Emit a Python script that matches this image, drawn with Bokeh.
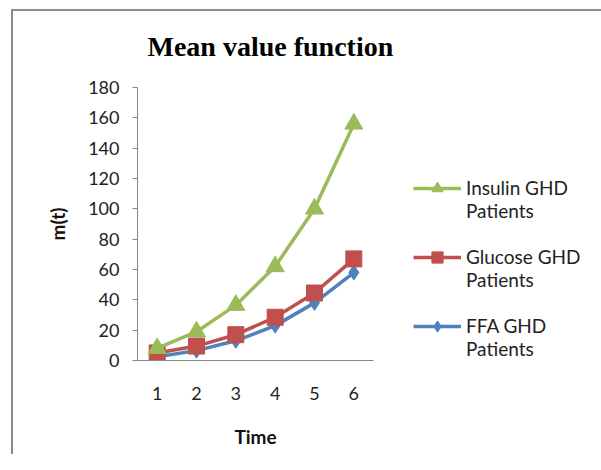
from bokeh.plotting import figure
from bokeh.models import Legend, LegendItem, FixedTicker, Range1d, Title, InlineStyleSheet
from bokeh.embed import file_html
from bokeh.resources import INLINE

time = [1, 2, 3, 4, 5, 6]
insulin = [8, 19, 36.5, 62, 100, 156]
glucose = [5, 9.5, 17, 28.5, 44.5, 67]
ffa = [2.5, 6.5, 13, 23, 38, 58]
y_ticks = [0, 20, 40, 60, 80, 100, 120, 140, 160, 180]
labels = ["Insulin GHD\nPatients", "Glucose GHD\nPatients", "FFA GHD\nPatients"]

GREEN = "#9BBB59"
RED = "#C0504D"
BLUE = "#4F81BD"
AXIS = "#868686"
FONT = "Lato"

p = figure(frame_width=236, frame_height=273, output_backend="svg", toolbar_location=None,
           x_range=Range1d(0.5, 6.5), y_range=Range1d(0, 180),
           min_border_left=137, min_border_right=0, min_border_top=87, min_border_bottom=94)
p.outline_line_color = None
p.xgrid.grid_line_color = None
p.ygrid.grid_line_color = None
p.border_fill_alpha = 0

# outer chart-area frame: only its top and left edges fall inside the picture
p.stylesheets = [InlineStyleSheet(css=
    ":host { background:"
    " linear-gradient(#8c8c8c,#8c8c8c) 11px 9px / 2px 100% no-repeat,"
    " linear-gradient(#8c8c8c,#8c8c8c) 11px 9px / 100% 2px no-repeat; }")]

title = Title(text="Mean value function", text_font="Liberation Serif", text_font_size="28px",
              text_font_style="bold", text_color="#000000", align="left", offset=10, standoff=51)
p.add_layout(title, "above")

# x axis
p.xaxis.ticker = FixedTicker(ticks=time)
p.xaxis.axis_line_color = AXIS
p.xaxis.major_tick_out = 0
p.xaxis.major_tick_in = 0
p.xaxis.minor_tick_line_color = None
p.xaxis.major_label_text_font = FONT
p.xaxis.major_label_text_font_size = "18px"
p.xaxis.major_label_text_color = "#222222"
p.xaxis.major_label_standoff = 26
p.xaxis.axis_label = "Time"
p.xaxis.axis_label_text_font = FONT
p.xaxis.axis_label_text_font_size = "19px"
p.xaxis.axis_label_text_font_style = "bold"
p.xaxis.axis_label_text_color = "#111111"
p.xaxis.axis_label_standoff = 22

# y axis
p.yaxis.ticker = FixedTicker(ticks=y_ticks)
p.yaxis.axis_line_color = AXIS
p.yaxis.major_tick_line_color = AXIS
p.yaxis.major_tick_out = 5
p.yaxis.major_tick_in = 0
p.yaxis.minor_tick_line_color = None
p.yaxis.major_label_text_font = FONT
p.yaxis.major_label_text_font_size = "18px"
p.yaxis.major_label_text_color = "#222222"
p.yaxis.major_label_standoff = 13
p.yaxis.axis_label = "m(t)"
p.yaxis.axis_label_text_font = FONT
p.yaxis.axis_label_text_font_size = "19px"
p.yaxis.axis_label_text_font_style = "bold"
p.yaxis.axis_label_text_color = "#111111"
p.yaxis.axis_label_standoff = 16

series = [
    (ffa, BLUE, "diamond", 15),
    (glucose, RED, "square", 16),
    (insulin, GREEN, "triangle", 18),
]
items = {}
for vals, col, mk, sz in series:
    lr = p.line(time, vals, line_color=col, line_width=3.5)
    sr = p.scatter(time, vals, marker=mk, size=sz, fill_color=col, line_color=col)
    items[col] = [lr, sr]

# a blank first line keeps each legend glyph level with the first text line (as in the reference)
legend = Legend(items=[
    LegendItem(label=" \n" + labels[0], renderers=items[GREEN]),
    LegendItem(label=" \n" + labels[1], renderers=items[RED]),
    LegendItem(label=" \n" + labels[2], renderers=items[BLUE]),
], location=(40, 0))
legend.border_line_color = None
legend.background_fill_alpha = 0
legend.border_line_alpha = 0
legend.padding = 0
legend.margin = 0
legend.spacing = 0
legend.glyph_width = 48
legend.glyph_height = 28
legend.label_standoff = 5
legend.label_text_font = FONT
legend.label_text_font_size = "19px"
legend.label_text_color = "#222222"
legend.label_text_line_height = 1.3
p.add_layout(legend, "right")

open("out.html", "w").write(file_html(p, INLINE))
